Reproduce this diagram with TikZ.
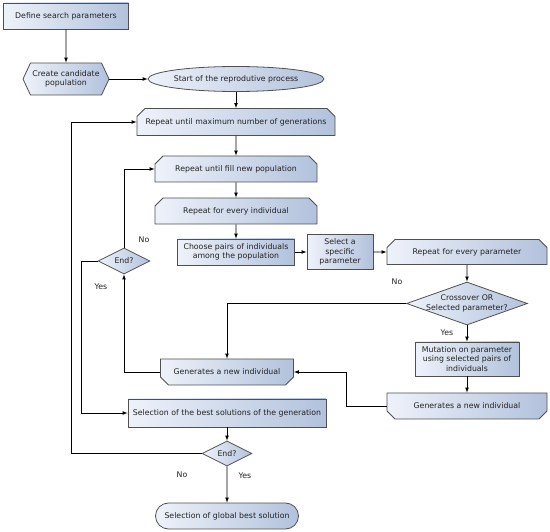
\documentclass[tikz,border=0pt]{standalone}
\usepackage{fontspec}
\setmainfont{DejaVu Sans}
\usetikzlibrary{shapes, shapes.geometric, shapes.misc, shapes.symbols, calc, arrows}

\definecolor{boxlight}{HTML}{EEF2FA}
\definecolor{boxdark}{HTML}{B2C2DC}
\definecolor{boxline}{HTML}{505050}
\definecolor{boxtext}{HTML}{222222}

\begin{document}
\begin{tikzpicture}[x=1pt, y=-1pt, >=latex,
	every node/.style={font=\fontsize{7.8}{9.2}\selectfont, text=boxtext},
	filled/.style={draw=boxline, line width=0.8pt, left color=boxlight, right color=boxdark, inner sep=1pt, align=center},
	dims/.style 2 args={minimum width=#1, minimum height=#2},
	proc/.style={filled, rectangle},
	prep/.style={filled, signal, signal to=west and east, signal pointer angle=130},
	start/.style={filled, ellipse, inner sep=0pt},
	loopbegin/.style={filled, chamfered rectangle, chamfered rectangle corners={north west, north east}, chamfered rectangle xsep=4pt, chamfered rectangle ysep=4pt},
	loopend/.style={filled, chamfered rectangle, chamfered rectangle corners={south west, south east}, chamfered rectangle xsep=4pt, chamfered rectangle ysep=4pt},
	test/.style={filled, diamond, inner sep=0pt},
	terminal/.style={filled, rounded rectangle},
	line/.style={draw, line width=0.7pt, ->}]

	\useasboundingbox (0,0) rectangle (550,532);

	\node[proc, dims={125}{26}] (define) at (66,16) {Define search parameters};
	\node[prep, dims={86}{32}] (create) at (66,79) {Create candidate\\population};
	\node[start, dims={134}{25}] (start) at (236,79) {Start of the reprodutive process};

	\node[loopbegin, dims={198}{27}] (maxgen) at (236,122) {Repeat until maximum number of generations};
	\node[loopbegin, dims={162}{26}] (fillpop) at (236,169) {Repeat until fill new population};
	\node[loopbegin, dims={162}{26}] (everyind) at (236,211) {Repeat for every individual};
	\node[proc, dims={117}{26}] (pairs) at (236,252) {Choose pairs of individuals\\among the population};
	\node[proc, dims={66}{35}] (selpar) at (340,252) {Select a\\specific\\parameter};
	\node[loopbegin, dims={160}{25}] (everypar) at (467,252) {Repeat for every parameter};

	\node[test, dims={121}{43}, label={[align=center]center:Crossover OR\\Selected parameter?}] (cross) at (467,303.5) {};
	\node[proc, dims={104}{34}] (mutation) at (467,359) {Mutation on parameter\\using selected pairs of\\individuals};
	\node[loopend, dims={160}{26}] (genright) at (467,406) {Generates a new individual};
	\node[loopend, dims={133}{26}] (genleft) at (227,372) {Generates a new individual};

	\node[test, dims={52}{26}, label={center:End?}] (endin) at (124,261) {};
	\node[proc, dims={198}{28}] (best) at (227,413) {Selection of the best solutions of the generation};
	\node[test, dims={50}{25}, label={center:End?}] (endout) at (227,453.5) {};
	\node[terminal, dims={145}{26}] (global) at (227,516) {Selection of global best solution};

	% labels of the tests
	\node (crossno) at (397,282) {No};
	\node (crossyes) at (447,333) {Yes};
	\node (endinno) at (144,240) {No};
	\node (endinyes) at (101,287) {Yes};
	\node (endoutno) at (182,475) {No};
	\node (endoutyes) at (245,476) {Yes};

	\draw[line] (define) -- (create);
	\draw[line] (create.east) -- (start.west);
	\draw[line] (start) -- (maxgen);
	\draw[line] (maxgen) -- (fillpop);
	\draw[line] (fillpop) -- (everyind);
	\draw[line] (everyind) -- (pairs);
	\draw[line] (pairs) -- (selpar);
	\draw[line] (selpar) -- (everypar);
	\draw[line] (everypar) -- (cross);
	\draw[line] (cross) -- (mutation);
	\draw[line] (mutation) -- (genright);
	\draw[line] (cross.west) -| (genleft.north);
	\draw[line] (genright.west) -- ++(-40,0) |- (genleft.east);
	\draw[line] (genleft.west) -| (endin.south);
	\draw[line] (endin.north) |- (fillpop.west);
	\draw[line] (endin.west) -- ++(-16,0) |- (best.west);
	\draw[line] (best) -- (endout);
	\draw[line] (endout) -- (global);
	\draw[line] (endout.west) -- ++(-130,0) |- (maxgen.west);
\end{tikzpicture}
\end{document}
